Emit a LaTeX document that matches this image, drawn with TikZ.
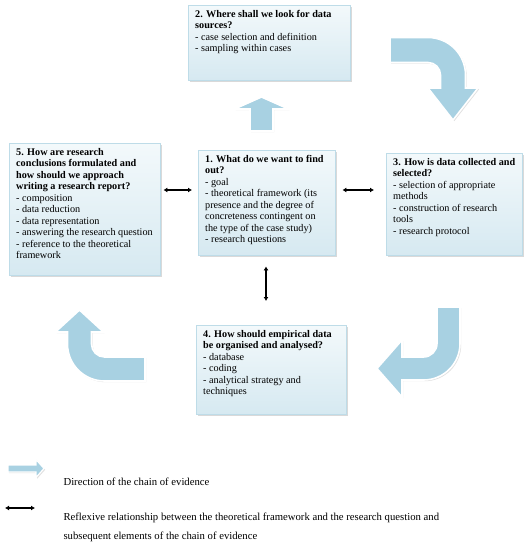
\documentclass[tikz,border=0pt]{standalone}
\usepackage{fontspec}
\setmainfont{Liberation Serif}
\usepackage{tikz}
\usetikzlibrary{arrows.meta, shadows}

\definecolor{boxtop}{HTML}{F3F9FB}
\definecolor{boxbottom}{HTML}{D6E9F1}
\definecolor{boxedge}{HTML}{BEDCE8}
\definecolor{flowblue}{HTML}{A8D1E2}

% fixed size text block, lines kept as typed
\newcommand{\boxlines}[3]{\parbox[t][#1][t]{#2}{\begin{tabular}[t]{@{}l@{}}#3\end{tabular}}}

\begin{document}
\begin{tikzpicture}[
    x=1pt, y=-1pt,
    every node/.style={font=\fontsize{10.2}{11.5}\selectfont},
    % Question boxes
    qbox/.style={draw=boxedge, top color=boxtop, bottom color=boxbottom,
                 anchor=north west, inner xsep=7pt, inner ysep=4pt,
                 drop shadow={shadow xshift=1.5pt, shadow yshift=-1.5pt, opacity=0.3}},
    % Chain of evidence arrows
    flow/.style={draw=white, line width=1.6pt, fill=flowblue,
                 drop shadow={shadow xshift=1.2pt, shadow yshift=-1.2pt, opacity=0.25}},
    % Reflexive relationship
    reflex/.style={{Latex[length=4pt,width=5pt]}-{Latex[length=4pt,width=5pt]}, line width=1.3pt},
    legend/.style={anchor=west, font=\fontsize{10.7}{19}\selectfont, align=left}
]
\useasboundingbox (0,0) rectangle (530,543);

% === NODES ===

% 2 at the top
\node[qbox] (q2) at (188,5) {\boxlines{67pt}{148pt}{%
    \textbf{2. Where shall we look for data}\\
    \textbf{sources?}\\
    - case selection and definition\\
    - sampling within cases}};

% 1 in the middle
\node[qbox] (q1) at (198,150) {\boxlines{97pt}{123pt}{%
    \textbf{1. What do we want to find}\\
    \textbf{out?}\\
    - goal\\
    - theoretical framework (its\\
    presence and the degree of\\
    concreteness contingent on\\
    the type of the case study)\\
    - research questions}};

% 3 on the right
\node[qbox] (q3) at (386,153) {\boxlines{94pt}{122pt}{%
    \textbf{3. How is data collected and}\\
    \textbf{selected?}\\
    - selection of appropriate\\
    methods\\
    - construction of research\\
    tools\\
    - research protocol}};

% 4 at the bottom
\node[qbox] (q4) at (196,325) {\boxlines{81pt}{136pt}{%
    \textbf{4. How should empirical data}\\
    \textbf{be organised and analysed?}\\
    - database\\
    - coding\\
    - analytical strategy and\\
    techniques}};

% 5 on the left
\node[qbox] (q5) at (9,143) {\boxlines{124pt}{137pt}{%
    \textbf{5. How are research}\\
    \textbf{conclusions formulated and}\\
    \textbf{how should we approach}\\
    \textbf{writing a research report?}\\
    - composition\\
    - data reduction\\
    - data representation\\
    - answering the research question\\
    - reference to the theoretical\\
    framework}};

% === CHAIN ARROWS ===

% 1 -> 2
\fill[flow] (250,131) -- (250,109) -- (234.5,109) -- (261.5,97) -- (288.5,109)
    -- (273,109) -- (273,131) -- cycle;

% 2 -> 3
\fill[flow] (390,37.5) -- (428,37.5) arc[start angle=-90, end angle=0, radius=37.5]
    -- (465.5,88) -- (478,88) -- (453,120) -- (428,88) -- (440.5,88) -- (440.5,75)
    arc[start angle=0, end angle=-90, radius=12.5] -- (390,62.5) -- cycle;

% 3 -> 4
\fill[flow] (460,307) -- (460,343.5) arc[start angle=0, end angle=90, radius=36.5]
    -- (402,380) -- (402,397) -- (377,368.5) -- (402,340) -- (402,357) -- (423.5,357)
    arc[start angle=90, end angle=0, radius=13.5] -- (437,307) -- cycle;

% 4 -> 5
\fill[flow] (145,381) -- (104.5,381) arc[start angle=90, end angle=180, radius=37]
    -- (67.5,332) -- (55.5,332) -- (79.5,310) -- (103.5,332) -- (91.5,332) -- (91.5,344)
    arc[start angle=180, end angle=90, radius=13] -- (145,357) -- cycle;

% === REFLEXIVE ARROWS ===
\draw[reflex, shorten <=3pt, shorten >=6pt] (q5.east |- 0,190) -- (q1.west |- 0,190);
\draw[reflex, shorten <=7pt, shorten >=12pt] (q1.east |- 0,190) -- (q3.west |- 0,190);
\draw[reflex, shorten <=11pt, shorten >=24pt] (q1.south -| 266,0) -- (q4.north -| 266,0);

% === LEGEND ===
\fill[flow, line width=1.2pt] (8,465) -- (36,465) -- (36,459.5) -- (44,468.5) -- (36,477.5)
    -- (36,472) -- (8,472) -- cycle;
\node[legend] (legdir) at (60,482) {Direction of the chain of evidence};

\coordinate (refl) at (5,508);
\coordinate (refr) at (35,508);
\draw[reflex] (refl) -- (refr);
\node[legend] (legref) at (60,527.5) {Reflexive relationship between the theoretical framework and the research question and\\
    subsequent elements of the chain of evidence};

\end{tikzpicture}
\end{document}
